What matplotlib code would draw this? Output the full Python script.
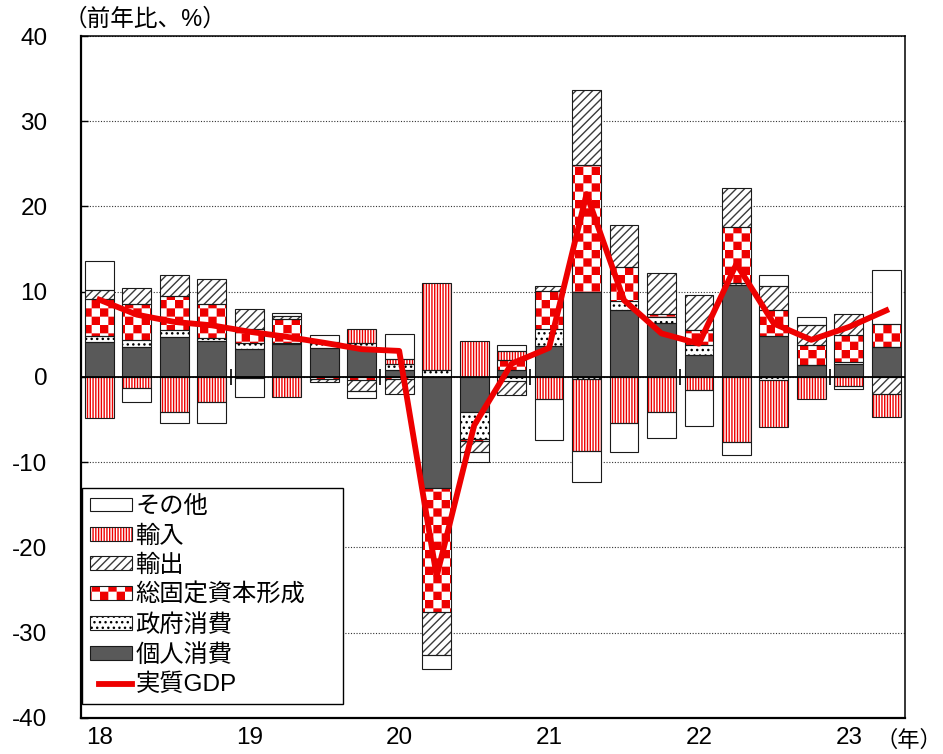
"""
Real GDP growth and demand-side contributions, 2018-2023 (quarterly, y/y %).
Stacked contribution bars with the real GDP line drawn on top.
"""

import numpy as np
import matplotlib
matplotlib.use("Agg")
import matplotlib.pyplot as plt
import matplotlib.hatch as mhatch
import matplotlib.patches as mpatches
from matplotlib.lines import Line2D
from matplotlib.legend_handler import HandlerPatch, HandlerLine2D
from matplotlib.path import Path


# ============================================================================
# DATA (% points)
# ============================================================================

year_labels = ['18', '19', '20', '21', '22', '23']
quarters_per_year = 4

personal = [4.1, 3.5, 4.7, 4.2, 3.3, 3.9, 3.4, 3.5, 0.85, -13.0, -4.15, 0.85,
            3.6, 10.0, 7.9, 6.35, 2.6, 10.8, 4.75, 1.35, 1.55, 3.45]
government = [0.75, 0.8, 0.85, 0.4, 0.7, 0.1, 0.55, 0.5, 0.65, 0.85, -3.15, -0.5,
              2.05, -0.3, 1.05, 0.65, 1.2, 0.2, -0.35, 0.0, 0.2, 0.0]
investment = [4.25, 4.3, 3.9, 4.0, 1.6, 2.75, -0.2, -0.4, -0.3, -14.55, -0.2, 1.1,
              4.4, 14.9, 3.9, 0.35, 1.75, 6.6, 3.15, 2.45, 3.15, 2.7]
exports = [1.1, 1.8, 2.45, 2.9, 2.4, 0.45, -0.45, -1.3, -1.65, -5.05, -1.35, -1.65,
           0.65, 8.8, 4.95, 4.85, 4.1, 4.6, 2.8, 2.3, 2.5, -1.95]
imports = [-4.8, -1.25, -4.15, -2.9, -0.1, -2.4, 0.1, 1.65, 0.6, 10.15, 4.2, 1.05,
           -2.55, -8.45, -5.45, -4.1, -1.5, -7.6, -5.55, -2.65, -1.1, -2.75]
other = [3.45, -1.75, -1.3, -2.5, -2.25, 0.3, 0.9, -0.75, 2.9, -1.7, -1.1, 0.7,
         -4.85, -3.55, -3.4, -3.05, -4.25, -1.55, 1.3, 0.9, -0.35, 6.35]
gdp = [9.05, 7.3, 6.45, 6.05, 5.3, 4.7, 4.0, 3.25, 3.05, -23.4, -5.7, 1.55,
       3.4, 21.45, 9.0, 5.1, 3.9, 13.25, 6.25, 4.35, 5.85, 7.8]

# stacking order, bottom (next to zero) first
series_names = ['個人消費', '政府消費', '総固定資本形成', '輸出', '輸入', 'その他']
series_values = [personal, government, investment, exports, imports, other]
legend_order = ['その他', '輸入', '輸出', '総固定資本形成', '政府消費', '個人消費']
gdp_label = '実質GDP'


# ============================================================================
# STYLE
# ============================================================================

RED = '#EE0000'
EDGE = '#1a1a1a'
BAR_WIDTH = 0.77

# name -> (facecolor, hatch, hatch colour)
SERIES_STYLE = {
    '個人消費': ('#595959', None, '#595959'),
    '政府消費': ('white', '...', 'black'),
    '総固定資本形成': ('white', 'O', RED),   # 'O' is remapped to a checkerboard below
    '輸出': ('white', '////', '#3a3a3a'),
    '輸入': ('white', '||||||', RED),
    'その他': ('white', None, 'white'),
}

plt.rcParams['font.family'] = ['Liberation Sans', 'Noto Sans CJK JP']
plt.rcParams['axes.unicode_minus'] = False
plt.rcParams['hatch.linewidth'] = 1.0


class CheckerHatch(mhatch.HatchPatternBase):
    """Filled checkerboard squares; takes over the 'O' hatch letter."""

    def __init__(self, hatch, density):
        self.num_cells = hatch.count('O') * density * 2
        self.num_vertices = (self.num_cells ** 2 // 2) * 5

    def set_vertices_and_codes(self, vertices, codes):
        n = self.num_cells
        step = 1.0 / n
        # agg strokes the hatch too, so pull the squares in by half a line
        inset = plt.rcParams['hatch.linewidth'] / 144.0
        i, j = np.nonzero(np.add.outer(np.arange(n), np.arange(n)) % 2 == 0)
        x0, x1 = i * step + inset, (i + 1) * step - inset
        y0, y1 = j * step + inset, (j + 1) * step - inset
        square = np.stack([np.c_[x0, y0], np.c_[x1, y0], np.c_[x1, y1],
                           np.c_[x0, y1], np.c_[x0, y0]], axis=1)
        vertices[:] = square.reshape(-1, 2)
        codes[:] = np.tile([Path.MOVETO, Path.LINETO, Path.LINETO,
                            Path.LINETO, Path.CLOSEPOLY], len(i))


mhatch._hatch_types[mhatch._hatch_types.index(mhatch.LargeCircles)] = CheckerHatch


# ============================================================================
# PLOT
# ============================================================================

fig = plt.figure(figsize=(9.43, 7.54), dpi=100)
ax = fig.add_axes([0.0856, 0.0481, 0.8741, 0.9041])

x = np.arange(len(gdp))
pos_base = np.zeros(len(x))
neg_base = np.zeros(len(x))
handles = {}

for name, values in zip(series_names, series_values):
    face, hatch, hatch_color = SERIES_STYLE[name]
    values = np.asarray(values, dtype=float)
    bottom = np.where(values >= 0, pos_base, neg_base)
    # hatch colour follows edgecolor, so fill and outline are two layers
    fill = ax.bar(x, values, BAR_WIDTH, bottom=bottom, facecolor=face,
                  hatch=hatch, edgecolor=hatch_color, linewidth=0, zorder=2)
    edge = ax.bar(x, values, BAR_WIDTH, bottom=bottom, fill=False,
                  edgecolor=EDGE, linewidth=0.8, zorder=2.5)
    handles[name] = (fill[0], edge[0])
    pos_base += np.clip(values, 0, None)
    neg_base += np.clip(values, None, 0)

gdp_line, = ax.plot(x, gdp, color=RED, linewidth=4.2, zorder=5)

# zero line and year separators on it
ax.axhline(0, color='black', linewidth=1.3, zorder=3)
year_breaks = x[quarters_per_year::quarters_per_year] - 0.5
ax.plot(year_breaks, np.zeros(len(year_breaks)), linestyle='none', marker='|',
        markersize=11.5, markeredgewidth=1.2, color='black', zorder=3)

# axes
ax.set_xlim(-0.5, len(x) - 0.5)
ax.set_ylim(-40, 40)
ax.set_yticks(np.arange(-40, 41, 10))
ax.set_xticks(x[::quarters_per_year])
ax.set_xticklabels(year_labels)
ax.tick_params(axis='y', direction='in', length=5, width=1, pad=24, labelsize=17.5)
ax.tick_params(axis='x', length=0, pad=7, labelsize=17.5)
ax.yaxis.grid(True, linestyle=(0, (1, 1.5)), color='#333333', linewidth=0.8)
ax.set_axisbelow(True)
for side, spine in ax.spines.items():
    spine.set_linewidth(1.6 if side in ('left', 'bottom') else 1.1)
    spine.set_color('black')

# legend
xpad = 0.36
leg = ax.legend([handles[n] for n in legend_order] + [gdp_line],
                legend_order + [gdp_label],
                loc='lower left', bbox_to_anchor=(0.0016, 0.02, 0.3166, 0.318),
                mode='expand', borderaxespad=0, fontsize=17.5,
                handlelength=1.72, handleheight=0.5, handletextpad=0.15,
                labelspacing=0.29, borderpad=0.32, fancybox=False,
                framealpha=1, edgecolor='black',
                handler_map={mpatches.Rectangle: HandlerPatch(xpad=xpad),
                             Line2D: HandlerLine2D(xpad=xpad)})
leg.get_frame().set_linewidth(1.0)
leg.set_zorder(6)

# unit labels
fig.text(64 / 943, 1 - 20 / 754, '（前年比、%）', fontsize=17, ha='left', va='center')
fig.text(942 / 943, 1 - 741 / 754, '（年）', fontsize=16, ha='right', va='center')

plt.savefig('out.png', dpi=100)
plt.close()
